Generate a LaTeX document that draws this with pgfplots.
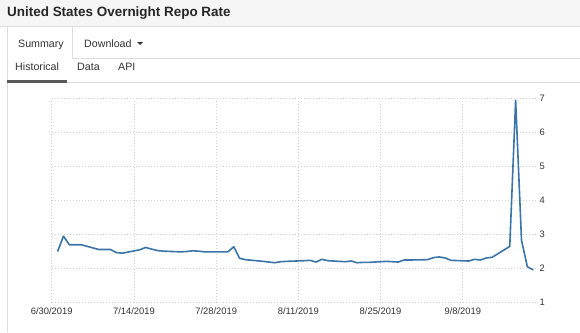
\documentclass[border=0pt]{standalone}
\usepackage{pgfplots}
\pgfplotsset{compat=1.18}
\usepackage{fontspec}
\setmainfont{Liberation Sans}
\definecolor{linecol}{HTML}{3A74A8}
\definecolor{txt}{HTML}{333333}
\definecolor{bord}{HTML}{DDDDDD}
\definecolor{band}{HTML}{F5F5F5}
\definecolor{gridc}{HTML}{CFCFCF}
\begin{document}
\begin{tikzpicture}[x=1bp,y=1bp]
\fill[white] (0,0) rectangle (580,332);
\path[use as bounding box] (0,0) rectangle (580,332);
% header band
\fill[band] (0,306) rectangle (580,332);
\draw[bord, line width=0.8bp] (0,306) -- (580,306);
\node[anchor=base west, inner sep=0, text=black!85] at (7,316) {\fontsize{13.5}{16}\selectfont\bfseries United States Overnight Repo Rate};
% tabs
\draw[bord, line width=0.8bp] (7,305.5) -- (7,0);
\draw[bord, line width=0.8bp] (72,305.5) -- (72,274);
\draw[bord, line width=0.8bp] (72,274) -- (580,274);
\node[anchor=base, inner sep=0, text=txt] at (41,285) {\fontsize{10.7}{12}\selectfont Summary};
\node[anchor=base west, inner sep=0, text=txt] at (84,285) {\fontsize{10.7}{12}\selectfont Download};
\fill[txt] (137,290) -- (143,290) -- (140,287) -- cycle;
\node[anchor=base west, inner sep=0, text=txt] at (15,262) {\fontsize{10.7}{12}\selectfont Historical};
\node[anchor=base west, inner sep=0, text=txt] at (77,262) {\fontsize{10.7}{12}\selectfont Data};
\node[anchor=base west, inner sep=0, text=txt] at (118,262) {\fontsize{10.7}{12}\selectfont API};
\draw[bord, line width=0.8bp] (67,250) -- (580,250);
\fill[black!65] (7,248.8) rectangle (67,251.8);
\begin{axis}[
  at={(51.7bp,29.5bp)}, anchor=south west,
  scale only axis, width=483.3bp, height=204bp,
  xmin=0, xmax=82.3, ymin=1, ymax=7,
  axis line style={draw=none},
  tick style={draw=none},
  xtick={0,14,28,42,56,70},
  xticklabels={6/30/2019,7/14/2019,7/28/2019,8/11/2019,8/25/2019,9/8/2019},
  ytick={1,2,3,4,5,6,7},
  yticklabel pos=right,
  yticklabel style={anchor=west, xshift=1bp},
  xticklabel style={yshift=-2bp},
  ticklabel style={font=\fontsize{9.4}{11}\selectfont, text=txt},
  /pgf/number format/assume math mode=true,
  grid=major,
  major grid style={gridc, dash pattern=on 1bp off 2bp, line width=0.8bp},
  clip=false,
]
\addplot[linecol, line width=1.6bp, line join=round] coordinates {
(1,2.50) (2,2.95) (3,2.70) (5,2.70) (8,2.56) (9,2.56) (10,2.56) (11,2.47) (12,2.45)
(15,2.55) (16,2.62) (17,2.57) (18,2.53) (19,2.51) (22,2.49) (23,2.50) (24,2.52)
(25,2.51) (26,2.49) (29,2.49) (30,2.49) (31,2.64) (32,2.30) (33,2.26) (36,2.21)
(37,2.19) (38,2.17) (39,2.20) (40,2.21) (43,2.23) (44,2.24) (45,2.19) (46,2.27)
(47,2.23) (50,2.20) (51,2.22) (52,2.17) (53,2.18) (54,2.18) (57,2.21) (58,2.20)
(59,2.19) (60,2.25) (61,2.25) (64,2.26) (65,2.32) (66,2.34) (67,2.31) (68,2.24)
(71,2.22) (72,2.27) (73,2.25) (74,2.31) (75,2.33) (78,2.65) (79,6.95) (80,2.83)
(81,2.05) (82,1.96)
};
\end{axis}
\end{tikzpicture}
\end{document}
